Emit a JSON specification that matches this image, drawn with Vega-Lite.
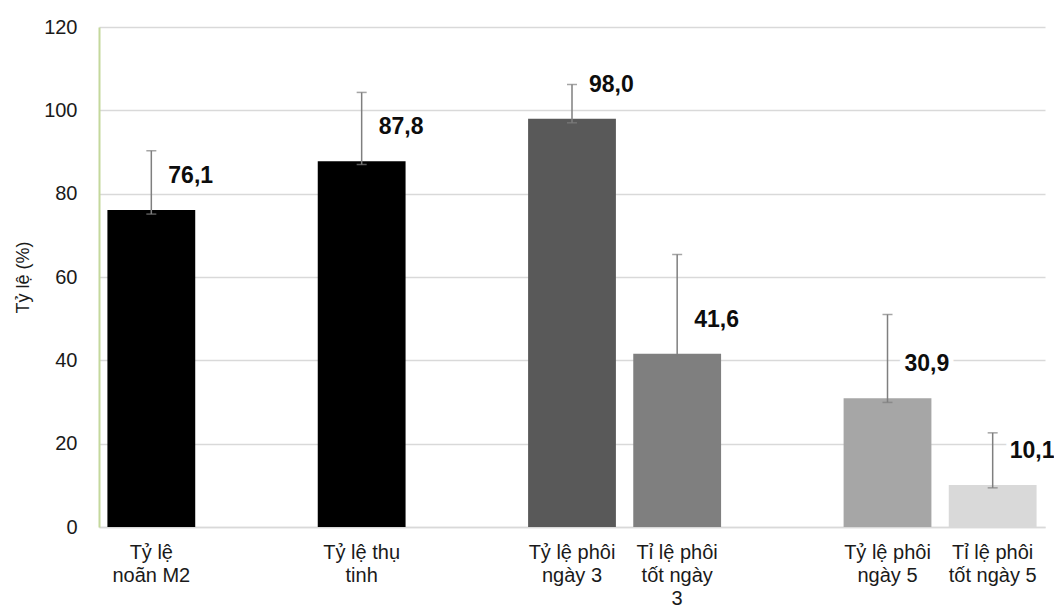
{
  "$schema": "https://vega.github.io/schema/vega-lite/v6.json",
  "width": 946,
  "height": 500,
  "autosize": "none",
  "padding": {"left": 99, "top": 27, "right": 9, "bottom": 83},
  "background": "white",
  "config": {
    "view": {"stroke": null},
    "font": "Liberation Sans"
  },
  "data": {
    "values": [
      {"cat": "Tỷ lệ|noãn M2", "value": 76.1, "lower": 75.1, "upper": 90.3, "label": "76,1"},
      {"cat": "Tỷ lệ thụ|tinh", "value": 87.8, "lower": 87.0, "upper": 104.3, "label": "87,8"},
      {"cat": "Tỷ lệ phôi|ngày 3", "value": 98.0, "lower": 97.0, "upper": 106.2, "label": "98,0"},
      {"cat": "Tỉ lệ phôi|tốt ngày|3", "value": 41.6, "lower": 41.0, "upper": 65.4, "label": "41,6"},
      {"cat": "Tỷ lệ phôi|ngày 5", "value": 30.9, "lower": 29.9, "upper": 51.0, "label": "30,9"},
      {"cat": "Tỉ lệ phôi|tốt ngày 5", "value": 10.1, "lower": 9.4, "upper": 22.6, "label": "10,1"}
    ]
  },
  "encoding": {
    "x": {
      "field": "cat",
      "type": "nominal",
      "sort": null,
      "scale": {
        "domain": ["Tỷ lệ|noãn M2", " ", "Tỷ lệ thụ|tinh", "  ", "Tỷ lệ phôi|ngày 3", "Tỉ lệ phôi|tốt ngày|3", "   ", "Tỷ lệ phôi|ngày 5", "Tỉ lệ phôi|tốt ngày 5"],
        "paddingInner": 0.165,
        "paddingOuter": 0.08
      },
      "axis": {
        "title": null,
        "labelAngle": 0,
        "labelExpr": "split(datum.value, '|')",
        "labelFontSize": 20,
        "labelLineHeight": 23,
        "labelColor": "#1a1a1a",
        "labelPadding": 15,
        "labelBaseline": "top",
        "ticks": false,
        "domainColor": "#d9d9d9",
        "domainWidth": 1.5,
        "grid": false
      }
    }
  },
  "layer": [
    {
      "mark": {"type": "bar"},
      "encoding": {
        "y": {
          "field": "value",
          "type": "quantitative",
          "scale": {"domain": [0, 120]},
          "axis": {
            "title": "Tỷ lệ (%)",
            "titleFontSize": 18,
            "titleFontWeight": "normal",
            "titleColor": "#1a1a1a",
            "titlePadding": 11,
            "values": [0, 20, 40, 60, 80, 100, 120],
            "labelFontSize": 20,
            "labelColor": "#1a1a1a",
            "labelPadding": 22,
            "ticks": false,
            "domainColor": "#c4d89c",
            "domainWidth": 2,
            "gridColor": "#d9d9d9",
            "gridWidth": 1.5
          }
        },
        "color": {
          "field": "cat",
          "type": "nominal",
          "legend": null,
          "scale": {
            "domain": ["Tỷ lệ|noãn M2", "Tỷ lệ thụ|tinh", "Tỷ lệ phôi|ngày 3", "Tỉ lệ phôi|tốt ngày|3", "Tỷ lệ phôi|ngày 5", "Tỉ lệ phôi|tốt ngày 5"],
            "range": ["#000000", "#000000", "#595959", "#7f7f7f", "#a6a6a6", "#d9d9d9"]
          }
        }
      }
    },
    {
      "mark": {"type": "rule", "color": "#7f7f7f", "strokeWidth": 1.5},
      "encoding": {
        "y": {"field": "lower", "type": "quantitative"},
        "y2": {"field": "upper"}
      }
    },
    {
      "mark": {"type": "tick", "color": "#7f7f7f", "thickness": 1.5, "size": 10},
      "encoding": {
        "y": {"field": "upper", "type": "quantitative"}
      }
    },
    {
      "mark": {"type": "tick", "color": "#7f7f7f", "thickness": 1.5, "size": 10},
      "encoding": {
        "y": {"field": "lower", "type": "quantitative"}
      }
    },
    {
      "mark": {"type": "text", "align": "left", "baseline": "middle", "dx": 17, "dy": -34, "fontSize": 23, "fontWeight": "bold", "color": "white", "stroke": "white", "strokeWidth": 10},
      "encoding": {
        "y": {"field": "value", "type": "quantitative"},
        "text": {"field": "label"}
      }
    },
    {
      "mark": {"type": "text", "align": "left", "baseline": "middle", "dx": 17, "dy": -34, "fontSize": 23, "fontWeight": "bold", "color": "#0d0d0d"},
      "encoding": {
        "y": {"field": "value", "type": "quantitative"},
        "text": {"field": "label"}
      }
    }
  ]
}
